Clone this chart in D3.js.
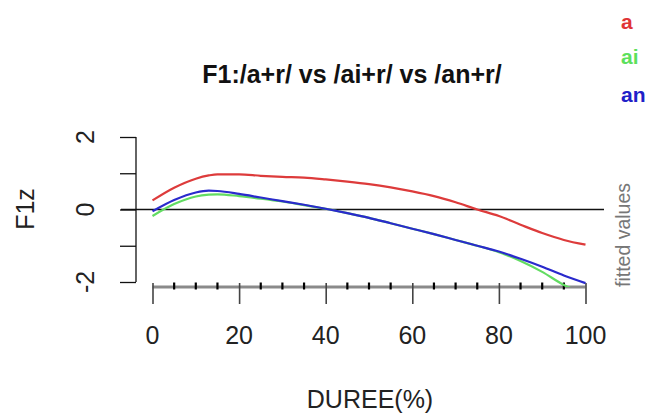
<!DOCTYPE html>
<html><head><meta charset="utf-8">
<script src="https://cdn.jsdelivr.net/npm/d3@7"></script>
<style>body{margin:0;background:#fff}svg{display:block}text{font-family:"Liberation Sans",Arial,sans-serif}</style>
</head><body>
<script>
const xs = [0,5,10,13,15,20,25,30,35,40,45,50,55,60,65,70,75,80,85,90,95,100];
const seriesA  = [0.25,0.60,0.85,0.94,0.97,0.97,0.93,0.90,0.88,0.83,0.77,0.70,0.61,0.50,0.37,0.20,0.00,-0.18,-0.42,-0.65,-0.84,-0.97];
const seriesAi = [-0.18,0.15,0.36,0.41,0.42,0.37,0.30,0.22,0.12,0.02,-0.10,-0.23,-0.38,-0.53,-0.68,-0.84,-1.00,-1.18,-1.42,-1.72,-2.08,-2.32];
const seriesAn = [-0.05,0.26,0.47,0.52,0.51,0.43,0.33,0.23,0.13,0.02,-0.10,-0.23,-0.38,-0.53,-0.68,-0.84,-1.00,-1.16,-1.36,-1.58,-1.82,-2.03];
const seriesNames = ["a","ai","an"];
const xTicks = [0,20,40,60,80,100];
const xMinor = d3.range(0,101,5);
const yTicks = [-2,-1,0,1,2];
const yLabels = [-2,0,2];
const title = "F1:/a+r/ vs /ai+r/ vs /an+r/";

const W=650,H=414;
const svg=d3.select("body").append("svg").attr("width",W).attr("height",H);
const x=d3.scaleLinear().domain([0,100]).range([152.5,585.5]);
const y=d3.scaleLinear().domain([-2,2]).range([282,137]);

svg.append("clipPath").attr("id","clip").append("rect").attr("x",121).attr("y",100).attr("width",485).attr("height",187);

svg.append("text").attr("x",352).attr("y",83).attr("text-anchor","middle")
  .attr("font-size",25).attr("font-weight","bold").attr("fill","#111").text(title);

const legCol=["#e03535","#5ce05c","#2020c8"];
const legY=[29,64,102];
seriesNames.forEach((n,i)=>svg.append("text").attr("x",621).attr("y",legY[i])
  .attr("font-size",21).attr("font-weight","bold").attr("fill",legCol[i]).text(n));

const yAxis=d3.axisLeft(y).tickValues(yTicks).tickSize(16).tickFormat("");
const gy=svg.append("g").attr("transform","translate(136,0)").call(yAxis);
gy.select(".domain").attr("stroke","#111").attr("stroke-width",1.3).attr("d","M0,"+y(2)+"V"+y(-2));
gy.selectAll(".tick line").attr("stroke","#111").attr("stroke-width",1.3);
yLabels.forEach(v=>svg.append("text").attr("transform",`translate(94,${y(v)}) rotate(-90)`)
  .attr("text-anchor","middle").attr("font-size",25).attr("fill","#222").text(v));
svg.append("text").attr("transform",`translate(34,209) rotate(-90)`).attr("text-anchor","middle")
  .attr("font-size",25).attr("fill","#222").text("F1z");

const axY=287;
svg.append("line").attr("x1",x(0)).attr("x2",x(100)).attr("y1",axY).attr("y2",axY)
  .attr("stroke","#8a8a8a").attr("stroke-width",3);
const gx=svg.append("g").attr("transform",`translate(0,${axY})`)
  .call(d3.axisBottom(x).tickValues(xTicks).tickSize(17).tickFormat(""));
gx.select(".domain").remove();
gx.selectAll(".tick line").attr("stroke","#444").attr("stroke-width",1.6).attr("y1",-4);
svg.append("g").selectAll("line").data(xMinor.filter(v=>!xTicks.includes(v))).join("line")
  .attr("x1",d=>x(d)).attr("x2",d=>x(d)).attr("y1",axY-4.5).attr("y2",axY+2.5)
  .attr("stroke","#000").attr("stroke-width",2.2);
svg.append("g").selectAll("text").data(xTicks).join("text")
  .attr("x",d=>x(d)).attr("y",344).attr("text-anchor","middle").attr("font-size",25).attr("fill","#222").text(d=>d);
svg.append("text").attr("x",370).attr("y",408).attr("text-anchor","middle").attr("font-size",25).attr("fill","#222").text("DUREE(%)");

svg.append("text").attr("transform",`translate(630,235) rotate(-90)`).attr("text-anchor","middle")
  .attr("font-size",19.5).attr("fill","#777").text("fitted values");

svg.append("line").attr("x1",121).attr("x2",604).attr("y1",y(0)).attr("y2",y(0)).attr("stroke","#111").attr("stroke-width",1.4);

const line=d3.line().x((d,i)=>x(xs[i])).y(d=>y(d)).curve(d3.curveMonotoneX);
const cg=svg.append("g").attr("clip-path","url(#clip)");
const data=[[seriesA,"#dd3b3b"],[seriesAi,"#62dc62"],[seriesAn,"#2a2acc"]];
data.forEach(([s,c])=>cg.append("path").datum(s).attr("d",line).attr("fill","none")
  .attr("stroke",c).attr("stroke-width",2.2).attr("stroke-linejoin","round"));
</script>
</body></html>
